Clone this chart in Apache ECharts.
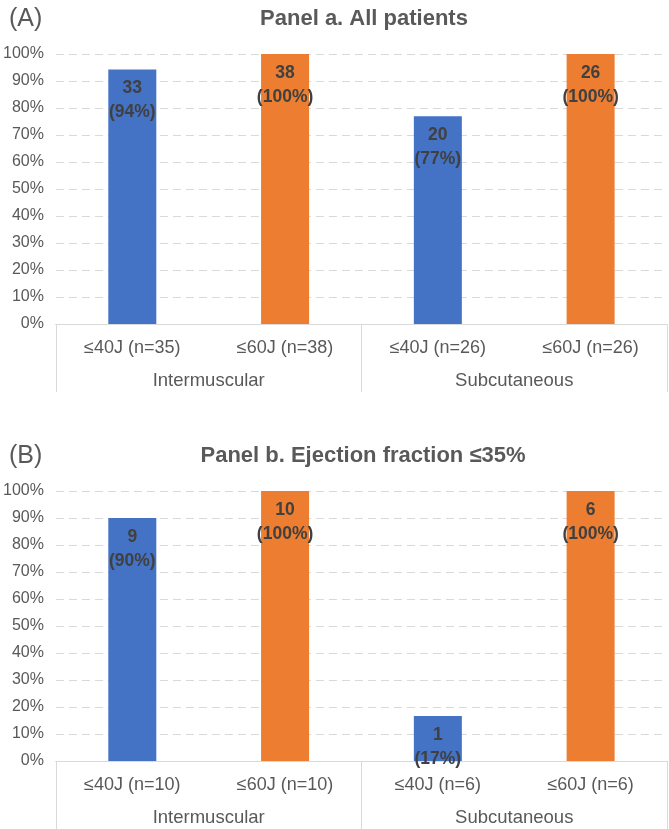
<!DOCTYPE html>
<html>
<head>
<meta charset="utf-8">
<script src="https://cdn.jsdelivr.net/npm/echarts@6/dist/echarts.min.js"></script>
<style>
html,body{margin:0;padding:0;background:#fff;}
#chart{width:669px;height:829px;}
</style>
</head>
<body>
<div id="chart"></div>
<script>
// ---- data ----
var categoriesA = ['≤40J (n=35)', '≤60J (n=38)', '≤40J (n=26)', '≤60J (n=26)'];
var categoriesB = ['≤40J (n=10)', '≤60J (n=10)', '≤40J (n=6)', '≤60J (n=6)'];
var groups = ['Intermuscular', 'Subcutaneous'];
var countsA = [33, 38, 20, 26];
var percentA = [94.3, 100, 76.9, 100];
var countsB = [9, 10, 1, 6];
var percentB = [90, 100, 16.7, 100];
var yTicks = [0, 10, 20, 30, 40, 50, 60, 70, 80, 90, 100];
var titleA = 'Panel a. All patients';
var titleB = 'Panel b. Ejection fraction ≤35%';

// ---- styles ----
var FONT = 'Liberation Sans';
var GREY = '#595959';
var LINE = '#d9d9d9';
var barColors = ['#4472C4', '#ED7D31', '#4472C4', '#ED7D31'];

var chart = echarts.init(document.getElementById('chart'), null, {renderer: 'canvas'});

function grid(top) {
  return {left: 55, right: 2, top: top, height: 270, containLabel: false};
}
function catAxis(gi, cats) {
  return {
    type: 'category', gridIndex: gi, data: cats, position: 'bottom',
    axisLine: {show: true, lineStyle: {color: LINE, width: 1}},
    axisTick: {show: false},
    axisLabel: {color: GREY, fontFamily: FONT, fontSize: 18, margin: 15, interval: 0},
    splitLine: {show: false}
  };
}
function groupAxis(gi) {
  return {
    type: 'category', gridIndex: gi, data: groups, position: 'bottom',
    axisLine: {show: true, lineStyle: {color: LINE, width: 1}},
    axisTick: {show: true, length: 68, interval: 0, alignWithLabel: false, lineStyle: {color: LINE, width: 1}},
    axisLabel: {color: GREY, fontFamily: FONT, fontSize: 18.5, margin: 47, interval: 0},
    splitLine: {show: false}
  };
}
function valAxis(gi) {
  return {
    type: 'value', gridIndex: gi, min: yTicks[0], max: yTicks[yTicks.length - 1], interval: yTicks[1] - yTicks[0],
    axisLine: {show: false}, axisTick: {show: false},
    axisLabel: {color: GREY, fontFamily: FONT, fontSize: 16, margin: 12, formatter: '{value}%'},
    splitLine: {show: true, lineStyle: {color: LINE, type: [8, 5], width: 1}}
  };
}
function barSeries(gi, pcts, counts) {
  return {
    type: 'bar', xAxisIndex: gi * 2, yAxisIndex: gi, barWidth: 48,
    data: pcts.map(function (v, i) { return {value: v, itemStyle: {color: barColors[i]}}; }),
    label: {
      show: true, position: 'insideTop', distance: 7,
      color: '#404040', fontFamily: FONT, fontSize: 17.5, fontWeight: 'bold', lineHeight: 24,
      formatter: function (p) { return counts[p.dataIndex] + '\n(' + Math.round(p.value) + '%)'; }
    },
    silent: true
  };
}

var option = {
  backgroundColor: '#fff',
  animation: false,
  title: [
    {text: '(A)', left: 4, top: 2, textStyle: {color: GREY, fontFamily: FONT, fontSize: 25, fontWeight: 'normal'}},
    {text: titleA, left: 359, textAlign: 'center', top: 3, textStyle: {color: GREY, fontFamily: FONT, fontSize: 22, fontWeight: 'bold'}},
    {text: '(B)', left: 4, top: 439, textStyle: {color: GREY, fontFamily: FONT, fontSize: 25, fontWeight: 'normal'}},
    {text: titleB, left: 358, textAlign: 'center', top: 440, textStyle: {color: GREY, fontFamily: FONT, fontSize: 22, fontWeight: 'bold'}}
  ],
  grid: [grid(54), grid(491)],
  xAxis: [catAxis(0, categoriesA), groupAxis(0), catAxis(1, categoriesB), groupAxis(1)],
  yAxis: [valAxis(0), valAxis(1)],
  series: [barSeries(0, percentA, countsA), barSeries(1, percentB, countsB)]
};
chart.setOption(option);
</script>
</body>
</html>
